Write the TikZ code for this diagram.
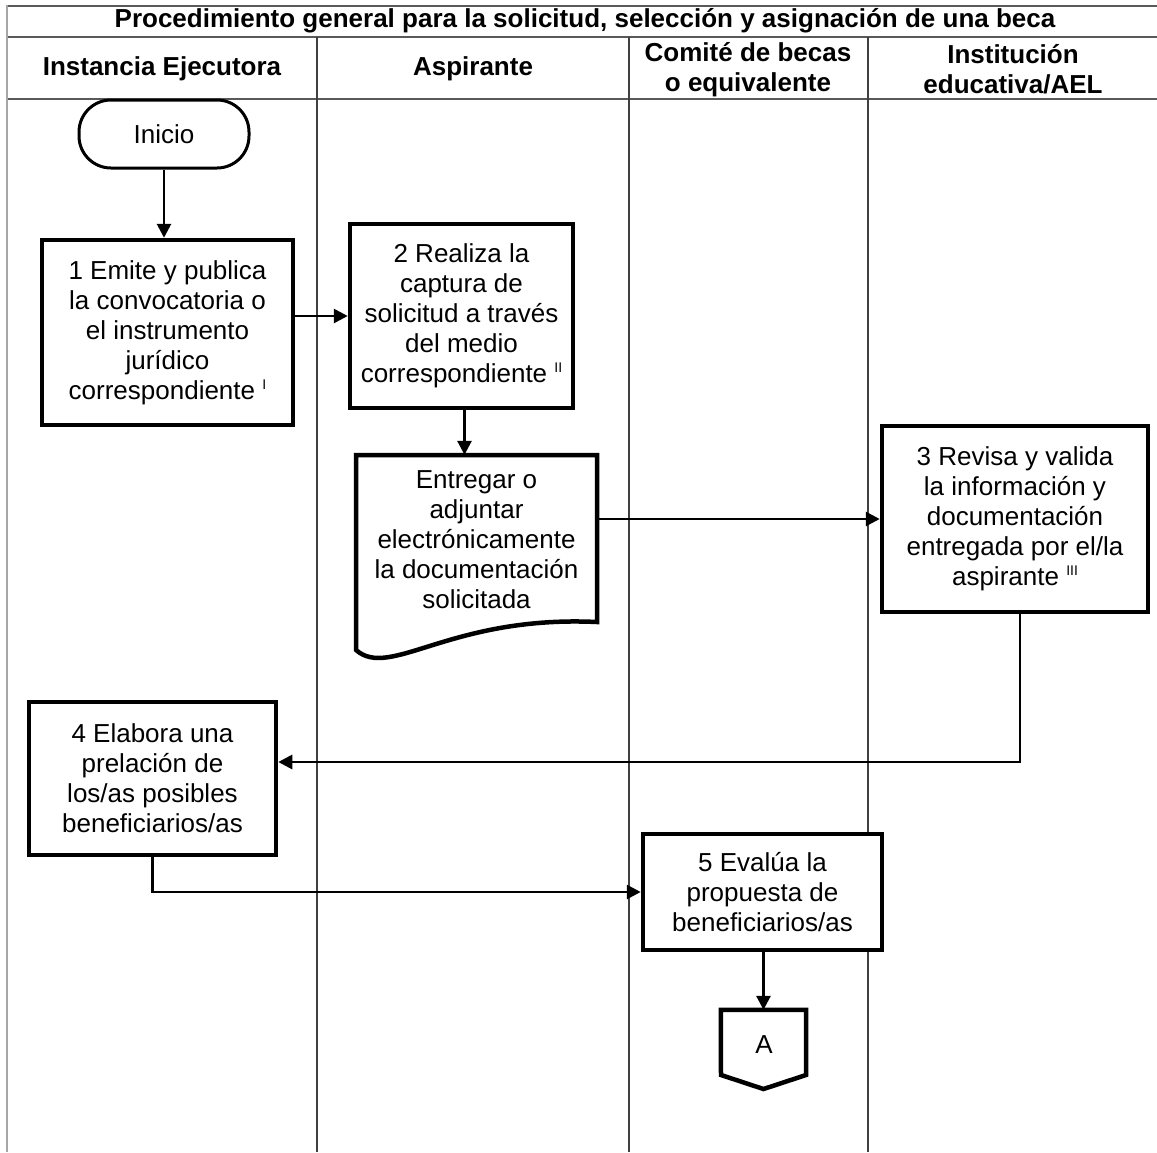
\documentclass[tikz,border=0pt]{standalone}
\usepackage{fontspec}
\setmainfont{Liberation Sans}
\usetikzlibrary{arrows.meta}
\newcommand\bodyfnt{\fontsize{26}{30}\selectfont}
\newcommand\hdrfnt{\fontsize{26}{30}\selectfont\bfseries}
\newcommand\romsup[1]{\raisebox{10pt}{\fontsize{14}{14}\selectfont #1}}
\tikzset{
  frameline/.style={draw=black!65, line width=1.8pt},
  laneline/.style={draw=black!75, line width=1.4pt},
  leftline/.style={draw=black!35, line width=2.6pt},
  procbox/.style={draw=black, line width=4.5pt, fill=white, align=center, inner sep=0pt, font=\bodyfnt, line join=miter},
  termbox/.style={draw=black, line width=3pt, fill=white, align=center, inner sep=0pt, font=\bodyfnt, rounded corners=32pt},
  plainbox/.style={align=center, inner sep=0pt, font=\bodyfnt},
  hdrtext/.style={align=center, inner sep=0pt, font=\hdrfnt},
  flow/.style={draw=black, line width=2.8pt, -{Triangle[length=14pt,width=14pt]}},
  shapeline/.style={draw=black, line width=4.5pt, fill=white, line join=miter},
}
\begin{document}
\begin{tikzpicture}[x=1pt,y=-1pt]
\useasboundingbox (0,0) rectangle (1157,1152);
% frame
\draw[frameline] (7,6) -- (1157,6);
\draw[frameline] (7,37) -- (1157,37);
\draw[frameline] (7,99) -- (1157,99);
\draw[leftline] (7,5) -- (7,1152);
\draw[laneline] (317,37) -- (317,1152);
\draw[laneline] (629,37) -- (629,1152);
\draw[laneline] (868,37) -- (868,1152);
% headers
\node[hdrtext] (title) at (585,21) {Procedimiento general para la solicitud, selección y asignación de una beca};
\node[hdrtext] (h1) at (162,69) {Instancia Ejecutora};
\node[hdrtext] (h2) at (473,69) {Aspirante};
\node[hdrtext] (h3) at (748,70) {Comité de becas\\o equivalente};
\node[hdrtext] (h4) at (1013,69) {Institución\\educativa/AEL};
% nodes
\node[termbox, minimum width=170pt, minimum height=68pt] (ini) at (164,134) {Inicio};
\node[procbox, minimum width=251pt, minimum height=185pt] (b1) at (167.5,332.5)
  {1 Emite y publica\\la convocatoria o\\el instrumento\\jurídico\\correspondiente \romsup{I}};
\node[procbox, minimum width=223pt, minimum height=184pt] (b2) at (461.5,316)
  {2 Realiza la\\captura de\\solicitud a través\\del medio\\correspondiente \romsup{II}};
\draw[shapeline] (356,650) -- (356,455) -- (597,455) -- (597,622)
  .. controls (450,615) and (390,680) .. (356,650) -- cycle;
\node[plainbox, minimum width=241pt, minimum height=170pt] (doc) at (476.5,540)
  {Entregar o\\adjuntar\\electrónicamente\\la documentación\\solicitada};
\node[procbox, minimum width=266pt, minimum height=186pt] (b3) at (1015,519)
  {3 Revisa y valida\\la información y\\documentación\\entregada por el/la\\aspirante \romsup{III}};
\node[procbox, minimum width=247pt, minimum height=153pt] (b4) at (152.5,778.5)
  {4 Elabora una\\prelación de\\los/as posibles\\beneficiarios/as};
\node[procbox, minimum width=239pt, minimum height=116pt] (b5) at (762.5,892)
  {5 Evalúa la\\propuesta de\\beneficiarios/as};
\node[plainbox, minimum width=85pt, minimum height=65pt] (A) at (763.5,1042.5) {};
\draw[shapeline] (A.north west) -- (A.north east) -- (806,1075) -- (763.5,1089) -- (721,1075) -- cycle;
\node[plainbox] (Atext) at (764,1045) {A};
% connectors
\draw[flow] (ini.south) -- (ini.south |- b1.north);
\draw[flow] (b2.west -| b1.east) -- (b2.west);
\draw[flow] ([xshift=3pt]b2.south) -- ([xshift=3pt]b2.south |- doc.north);
\draw[flow] (doc.east |- b3.west) -- (b3.west);
\draw[flow] ([xshift=5pt]b3.south) |- ([yshift=16.5pt]b4.east);
\draw[flow] (b4.south) |- (b5.west);
\draw[flow] (A.north |- b5.south) -- (A.north);
\end{tikzpicture}
\end{document}
